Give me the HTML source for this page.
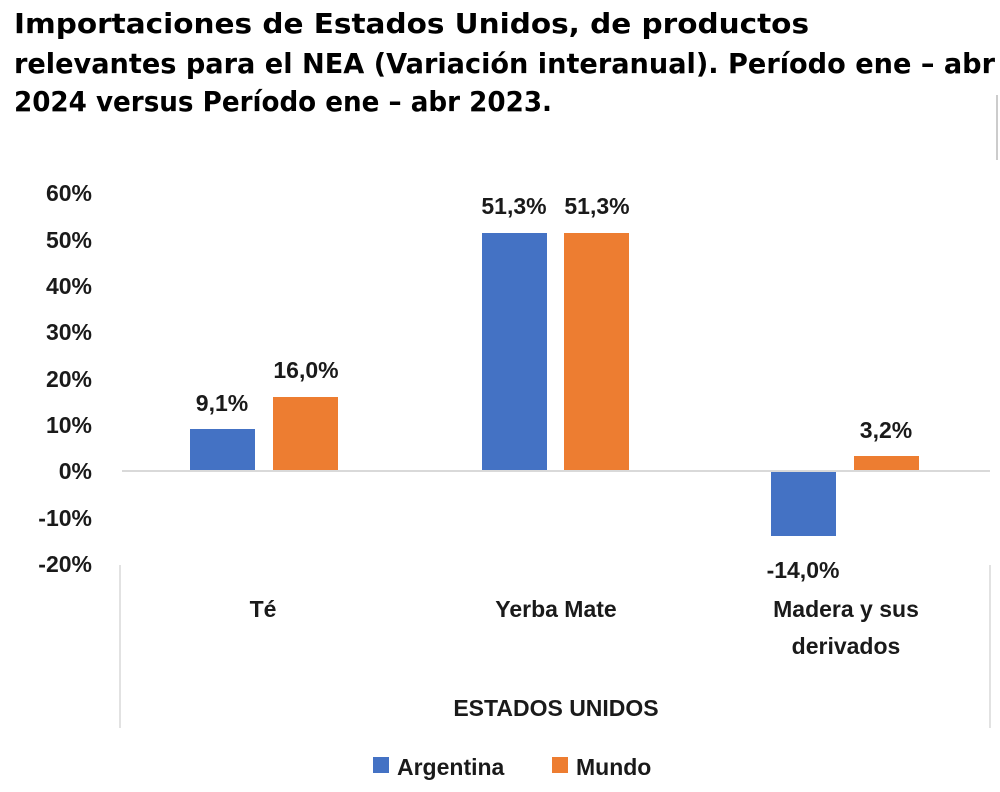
<!DOCTYPE html>
<html><head><meta charset="utf-8"><style>
html,body{margin:0;padding:0;background:#fff;}
svg{display:block}
.t{font-family:"DejaVu Sans","Liberation Sans",sans-serif;font-weight:bold;font-size:28px;fill:#000}
.l{font-family:"Liberation Sans",sans-serif;font-weight:bold;font-size:23px;fill:#1a1a1a}
</style></head><body>
<svg width="1000" height="792" viewBox="0 0 1000 792">
<text class="t" x="14" y="33" textLength="795" lengthAdjust="spacingAndGlyphs">Importaciones   de   Estados   Unidos,   de   productos</text>
<text class="t" x="14" y="73" textLength="981" lengthAdjust="spacingAndGlyphs">relevantes para el NEA (Variación interanual). Período ene – abr</text>
<text class="t" x="14" y="111" textLength="538" lengthAdjust="spacingAndGlyphs">2024 versus Período ene – abr 2023.</text>
<line x1="997" y1="95" x2="997" y2="160" stroke="#ccc" stroke-width="2"/>
<g class="l" text-anchor="end">
<text x="92" y="201">60%</text><text x="92" y="248">50%</text><text x="92" y="294">40%</text>
<text x="92" y="340">30%</text><text x="92" y="387">20%</text><text x="92" y="433">10%</text>
<text x="92" y="479">0%</text><text x="92" y="526">-10%</text><text x="92" y="572">-20%</text>
</g>
<line x1="120" y1="565" x2="120" y2="728" stroke="#d9d9d9" stroke-width="1.5"/>
<line x1="990" y1="565" x2="990" y2="728" stroke="#d9d9d9" stroke-width="1.5"/>
<rect x="190" y="429" width="65" height="42" fill="#4472c4"/>
<rect x="273" y="397" width="65" height="74" fill="#ed7d31"/>
<rect x="482" y="233" width="65" height="238" fill="#4472c4"/>
<rect x="564" y="233" width="65" height="238" fill="#ed7d31"/>
<rect x="771" y="471" width="65" height="65" fill="#4472c4"/>
<rect x="854" y="456" width="65" height="15" fill="#ed7d31"/>
<line x1="122" y1="471" x2="990" y2="471" stroke="#d9d9d9" stroke-width="2"/>
<g class="l" text-anchor="middle">
<text x="222" y="411">9,1%</text><text x="306" y="378">16,0%</text>
<text x="514" y="214">51,3%</text><text x="597" y="214">51,3%</text>
<text x="803" y="578">-14,0%</text><text x="886" y="438">3,2%</text>
<text x="263" y="617">Té</text><text x="556" y="617">Yerba Mate</text>
<text x="846" y="617">Madera y sus</text><text x="846" y="654">derivados</text>
<text x="556" y="716">ESTADOS UNIDOS</text>
</g>
<rect x="373" y="757" width="16" height="16" fill="#4472c4"/>
<text class="l" x="397" y="775">Argentina</text>
<rect x="552" y="757" width="16" height="16" fill="#ed7d31"/>
<text class="l" x="576" y="775">Mundo</text>
</svg>
</body></html>
